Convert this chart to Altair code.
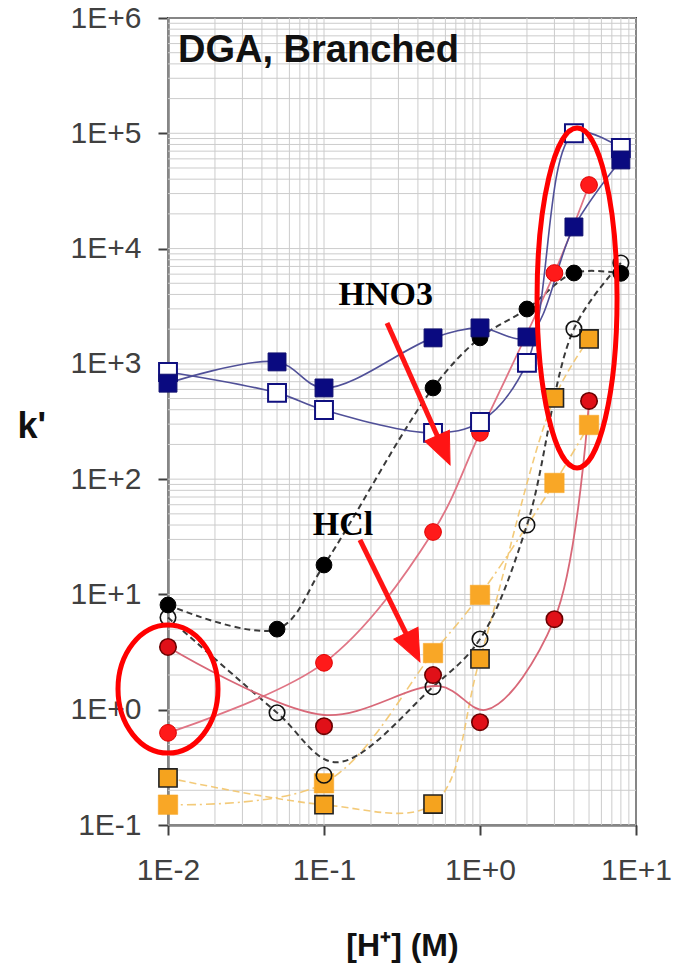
import altair as alt
import pandas as pd

# ---------------- data ----------------
x_navy = [0.01, 0.05, 0.1, 0.5, 1, 2, 4, 8]
k_navy_filled = [680, 1040, 618, 1680, 2050, 1710, 15400, 58700]
k_navy_open = [850, 560, 398, 252, 313, 1020, 100000, 74500]

x_black = [0.01, 0.05, 0.1, 0.5, 1, 2, 4, 8]
k_black_filled = [8.1, 5.0, 18, 618, 1680, 2990, 6140, 6100]
k_black_open = [6.3, 0.94, 0.27, 1.58, 4.1, 40, 2010, 7500]
# smoothed trend drawn for the open black circles
x_black_open_curve = [0.01, 0.05, 0.12, 0.5, 1, 2, 4, 8]
k_black_open_curve = [6.3, 0.94, 0.35, 1.58, 4.1, 40, 2010, 7500]

x_red = [0.01, 0.1, 0.5, 1, 3, 5]
k_hno3 = [0.63, 2.55, 34.8, 252, 6140, 35600]
k_hcl = [3.5, 0.72, 2.0, 0.78, 6.1, 477]
# smoothed trend drawn for HCl
x_hcl_curve = [0.01, 0.1, 0.55, 1.1, 3, 5]
k_hcl_curve = [3.5, 0.9, 1.6, 1.0, 6.1, 477]

x_orange = [0.01, 0.1, 0.5, 1, 3, 5]
k_orange_bordered = [0.256, 0.15, 0.152, 2.76, 506, 1645]
k_orange_plain = [0.15, 0.23, 3.1, 9.9, 92.7, 295]

x_ticks = [0.01, 0.1, 1, 10]
y_ticks = [0.1, 1, 10, 100, 1000, 10000, 100000, 1000000]

# annotation anchors (data units)
label_text = ["DGA, Branched", "HNO3", "HCl"]
label_x = [0.0116, 0.5, 0.1325]
label_k = [415000, 3245, 32.8]
arrow_x = [0.2536, 0.170]
arrow_k = [2265, 29.7]
arrow_x2 = [0.587, 0.374]
arrow_k2 = [176, 3.40]
arrow_tip_x = [0.643, 0.412]
arrow_tip_k = [132.8, 2.60]
arrow_angle = [336, 334]
ellipse_x = [4.19, 0.01]
ellipse_k = [3733, 1.51]

# ---------------- helpers ----------------
xscale = alt.Scale(type="log", domain=[0.01, 10], nice=False)
yscale = alt.Scale(type="log", domain=[0.1, 1000000], nice=False)

label_expr = "'1E' + (datum.value >= 1 ? '+' : '-') + format(abs(round(log(datum.value) / LN10)), 'd')"

xaxis = alt.Axis(
    values=x_ticks, labelExpr=label_expr, grid=False,
    tickSize=10, tickWidth=2, tickColor="#404040",
    domainColor="#404040", domainWidth=2,
    labelFont="Liberation Sans", labelFontSize=30, labelColor="#404040",
    labelPadding=20, labelFlush=False, labelOverlap=False,
    title="[H\u207a] (M)", titleFont="Liberation Sans", titleFontSize=32,
    titleFontWeight="bold", titleColor="#111111",
    titleBaseline="alphabetic", titleY=130,
)
yaxis = alt.Axis(
    values=y_ticks, labelExpr=label_expr, grid=False,
    tickSize=10, tickWidth=2, tickColor="#404040",
    domainColor="#404040", domainWidth=2,
    labelFont="Liberation Sans", labelFontSize=30, labelColor="#404040",
    labelPadding=17, labelFlush=False, labelOverlap=False,
    title="k'", titleFont="Liberation Sans", titleFontSize=36,
    titleFontWeight="bold", titleColor="#111111", titleAngle=0,
    titleAlign="left", titleBaseline="alphabetic", titleX=-151, titleY=419,
)
X = alt.X("x:Q", scale=xscale, axis=xaxis)
Y = alt.Y("k:Q", scale=yscale, axis=yaxis)


def frame(xs, ks):
    return pd.DataFrame({"x": xs, "k": ks})


grid_x = [d * m for d in [0.01, 0.1, 1] for m in range(1, 10)] + [10]
grid_y = [d * m for d in [0.1, 1, 10, 100, 1000, 10000, 100000] for m in range(1, 10)] + [1000000]

grid_v = alt.Chart(pd.DataFrame({"x": grid_x})).mark_rule(color="#cccccc", strokeWidth=1).encode(x=X)
grid_h = alt.Chart(pd.DataFrame({"k": grid_y})).mark_rule(color="#cccccc", strokeWidth=1).encode(y=Y)


def line(xs, ks, color, width=1.6, dash=None, opacity=1.0):
    kw = dict(color=color, strokeWidth=width, interpolate="catmull-rom", opacity=opacity)
    if dash:
        kw["strokeDash"] = dash
    return alt.Chart(frame(xs, ks)).mark_line(**kw).encode(x=X, y=Y)


def pts(xs, ks, shape, size, fill, stroke, sw, fill_opacity=1.0):
    return alt.Chart(frame(xs, ks)).mark_point(
        shape=shape, size=size, filled=True, fill=fill, stroke=stroke,
        strokeWidth=sw, opacity=1, fillOpacity=fill_opacity,
    ).encode(x=X, y=Y)


lines = [
    line(x_orange, k_orange_bordered, "#f2c46a", 1.6, [7, 4], 0.9),
    line(x_orange, k_orange_plain, "#f2c46a", 1.6, [9, 4, 2, 4], 0.9),
    line(x_black, k_black_filled, "#3a3a3a", 2, [6, 4]),
    line(x_black_open_curve, k_black_open_curve, "#3a3a3a", 2, [6, 4]),
    line(x_red, k_hno3, "#e07585", 1.8),
    line(x_hcl_curve, k_hcl_curve, "#d86878", 1.8),
    line(x_navy, k_navy_filled, "#505098", 1.6),
    line(x_navy, k_navy_open, "#505098", 1.6),
]

points = [
    pts(x_orange, k_orange_plain, "square", 380, "#f9a726", "#f9a726", 0.5),
    pts(x_orange, k_orange_bordered, "square", 330, "#f5a31e", "#222222", 1.6),
    pts(x_black, k_black_open, "circle", 240, "#ffffff", "#111111", 1.6, 0.0),
    pts(x_black, k_black_filled, "circle", 250, "#000000", "#000000", 1),
    pts(x_red, k_hcl, "circle", 270, "#e01018", "#6a0000", 1.6),
    pts(x_red, k_hno3, "circle", 280, "#ff1a1a", "#e00000", 1),
    pts(x_navy, k_navy_open, "square", 320, "#ffffff", "#101080", 2),
    pts(x_navy, k_navy_filled, "square", 320, "#0a0a80", "#101070", 1),
]

# ---------------- annotations ----------------
lab = pd.DataFrame({"x": label_x, "k": label_k, "t": label_text})
title_txt = alt.Chart(lab.iloc[[0]]).mark_text(
    font="Liberation Sans", fontSize=38, fontWeight="bold", color="#111111",
    align="left", baseline="alphabetic",
).encode(x=X, y=Y, text="t:N")
hno3_txt = alt.Chart(lab.iloc[[1]]).mark_text(
    font="Liberation Serif", fontSize=34, fontWeight="bold", color="#000000",
    align="right", baseline="alphabetic",
).encode(x=X, y=Y, text="t:N")
hcl_txt = alt.Chart(lab.iloc[[2]]).mark_text(
    font="Liberation Serif", fontSize=34, fontWeight="bold", color="#000000",
    align="center", baseline="alphabetic",
).encode(x=X, y=Y, text="t:N")

arr = pd.DataFrame({"x": arrow_x, "k": arrow_k, "x2": arrow_x2, "k2": arrow_k2})
shafts = alt.Chart(arr).mark_rule(color="#ff1414", strokeWidth=5).encode(
    x=X, y=Y, x2="x2:Q", y2="k2:Q"
)
head_path = "M0,0L-0.42,-1L0.42,-1Z"
heads = alt.Chart(pd.DataFrame({"x": arrow_tip_x, "k": arrow_tip_k, "a": arrow_angle})).mark_point(
    shape=head_path, size=4096, filled=True, fill="#ff1414", stroke="#ff1414",
    strokeWidth=1, opacity=1,
).encode(x=X, y=Y, angle=alt.Angle("a:Q", scale=None))


def ellipse_path(ratio):
    c = 0.5523
    a = ratio
    return (
        f"M{a},0C{a},{c}{c*a},1 0,1C{-c*a},1 {-a},{c} {-a},0"
        f"C{-a},{-c} {-c*a},-1 0,-1C{c*a},-1 {a},{-c} {a},0Z"
    )


ell1 = alt.Chart(frame(ellipse_x[:1], ellipse_k[:1])).mark_point(
    shape=ellipse_path(40 / 170), size=(2 * 170) ** 2, filled=False,
    stroke="#ff0000", strokeWidth=5, opacity=1,
).encode(x=X, y=Y)
ell2 = alt.Chart(frame(ellipse_x[1:], ellipse_k[1:])).mark_point(
    shape=ellipse_path(50 / 64), size=(2 * 64) ** 2, filled=False,
    stroke="#ff0000", strokeWidth=5, opacity=1,
).encode(x=X, y=Y)

chart = alt.layer(
    grid_v, grid_h, *lines, *points, ell1, ell2, shafts, heads,
    title_txt, hno3_txt, hcl_txt,
).properties(
    width=468, height=807,
    autosize=alt.AutoSizeParams(type="none"),
    padding={"left": 168, "top": 18, "right": 41, "bottom": 142},
    background="white",
).configure_view(stroke="#404040", strokeWidth=2)

chart.save("out.html", embed_options={"renderer": "svg", "actions": False})
